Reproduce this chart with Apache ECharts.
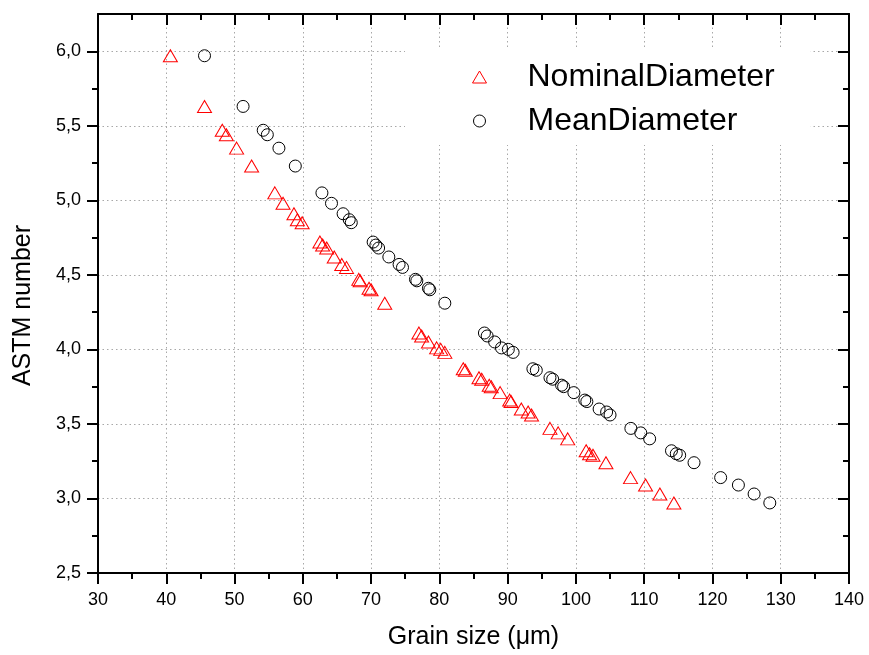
<!DOCTYPE html>
<html>
<head>
<meta charset="utf-8">
<script src="https://cdn.jsdelivr.net/npm/echarts@6/dist/echarts.min.js"></script>
<style>
  html, body { margin: 0; padding: 0; background: #fff; }
  #chart { width: 869px; height: 655px; }
</style>
</head>
<body>
<div id="chart"></div>
<script>
// ASTM grain-size number (shared by both measurement series)
const astmNumber = [
  5.97, 5.63, 5.47, 5.44, 5.35, 5.23, 5.05, 4.98, 4.91, 4.87,
  4.85, 4.72, 4.70, 4.68, 4.62, 4.57, 4.55, 4.47, 4.46, 4.41,
  4.40, 4.31, 4.11, 4.09, 4.05, 4.01, 4.00, 3.98, 3.87, 3.86,
  3.81, 3.80, 3.76, 3.75, 3.71, 3.66, 3.65, 3.60, 3.58, 3.56,
  3.47, 3.44, 3.40, 3.32, 3.30, 3.29, 3.24, 3.14, 3.09, 3.03,
  2.97
];

// Grain size from the nominal diameter (µm)
const nominalDiameter = [
  40.6, 45.6, 48.2, 48.8, 50.3, 52.5, 55.9, 57.1, 58.7, 59.2,
  59.9, 62.5, 62.9, 63.5, 64.6, 65.7, 66.4, 68.2, 68.4, 69.7,
  70.0, 72.0, 77.0, 77.4, 78.4, 79.6, 80.2, 80.8, 83.5, 83.8,
  85.8, 86.2, 87.3, 87.6, 88.9, 90.3, 90.5, 92.0, 93.0, 93.5,
  96.2, 97.4, 98.8, 101.5, 102.0, 102.5, 104.4, 108.0, 110.2, 112.3,
  114.35
];

// Grain size from the mean diameter (µm)
const meanDiameter = [
  45.6, 51.25, 54.2, 54.8, 56.5, 58.9, 62.8, 64.2, 65.9, 66.8,
  67.1, 70.3, 70.7, 71.1, 72.6, 74.1, 74.6, 76.5, 76.7, 78.4,
  78.6, 80.8, 86.6, 87.0, 88.1, 89.1, 90.1, 90.8, 93.7, 94.2,
  96.2, 96.6, 97.9, 98.2, 99.7, 101.3, 101.6, 103.4, 104.5, 105.0,
  108.05, 109.5, 110.8, 114.0, 114.7, 115.2, 117.3, 121.2, 123.8, 126.1,
  128.4
];

const seriesNames = ['NominalDiameter', 'MeanDiameter'];
const yMajorTicks = [2.5, 3.0, 3.5, 4.0, 4.5, 5.0, 5.5, 6.0];
const yMinorTicks = [2.75, 3.25, 3.75, 4.25, 4.75, 5.25, 5.75];

const FONT = 'Liberation Sans, Arial, Helvetica, sans-serif';
const AXIS_COLOR = '#000';
const GRID_LINE = { show: true, lineStyle: { color: '#a8a8a8', width: 1, type: [1.5, 3] } };

const pairs = (xs) => xs.map((x, i) => [x, astmNumber[i]]);

const chart = echarts.init(document.getElementById('chart'), null, { renderer: 'canvas' });

const baseAxisLine = { show: true, onZero: false, lineStyle: { color: AXIS_COLOR, width: 2 } };

chart.setOption({
  animation: false,
  backgroundColor: '#fff',
  textStyle: { fontFamily: FONT },
  grid: { left: 98, right: 20, top: 14, bottom: 82, containLabel: false },
  legend: {
    orient: 'vertical',
    left: 405,
    top: 47,
    padding: [14, 36, 8, 67],
    itemGap: 12,
    itemWidth: 14,
    itemHeight: 12,
    backgroundColor: '#fff',
    textStyle: { fontSize: 32, fontFamily: FONT, color: '#000', lineHeight: 32, padding: [0, 0, 0, 36] },
    data: [
      { name: seriesNames[0], icon: 'triangle', itemStyle: { color: 'rgba(0,0,0,0)', borderColor: '#ff0000', borderWidth: 1 } },
      { name: seriesNames[1], icon: 'circle', itemStyle: { color: 'rgba(0,0,0,0)', borderColor: '#000', borderWidth: 1 } }
    ]
  },
  xAxis: [
    {
      type: 'value', position: 'bottom', min: 30, max: 140, interval: 10,
      name: 'Grain size (\u03bcm)', nameLocation: 'middle', nameGap: 52,
      nameTextStyle: { fontSize: 25, color: '#000', fontFamily: FONT },
      axisLine: baseAxisLine,
      axisTick: { show: true, inside: false, length: 11, lineStyle: { color: AXIS_COLOR, width: 2 } },
      minorTick: { show: true, splitNumber: 2, length: 6, lineStyle: { color: AXIS_COLOR, width: 2 } },
      axisLabel: { fontSize: 18, color: '#000', margin: 18, fontFamily: FONT },
      splitLine: GRID_LINE
    },
    {
      type: 'value', position: 'top', min: 30, max: 140, interval: 10,
      axisLine: baseAxisLine,
      axisTick: { show: true, inside: true, length: 11, lineStyle: { color: AXIS_COLOR, width: 2 } },
      minorTick: { show: true, splitNumber: 2, length: 6, lineStyle: { color: AXIS_COLOR, width: 2 } },
      axisLabel: { show: false },
      splitLine: { show: false }
    }
  ],
  yAxis: [
    {
      type: 'value', position: 'left', min: 2.5, max: 6.25, interval: 0.5,
      name: 'ASTM number', nameLocation: 'middle', nameGap: 62,
      nameTextStyle: { fontSize: 25, color: '#000', fontFamily: FONT, padding: [0, 24, 0, 0] },
      axisLine: baseAxisLine,
      axisTick: { show: true, inside: false, length: 11, customValues: yMajorTicks, lineStyle: { color: AXIS_COLOR, width: 2 } },
      axisLabel: {
        fontSize: 18, color: '#000', margin: 17, fontFamily: FONT,
        customValues: yMajorTicks,
        formatter: (v) => v.toFixed(1).replace('.', ',')
      },
      splitLine: GRID_LINE
    },
    {
      type: 'value', position: 'left', min: 2.5, max: 6.25,
      axisLine: { show: false },
      axisTick: { show: true, inside: false, length: 6, customValues: yMinorTicks, lineStyle: { color: AXIS_COLOR, width: 2 } },
      axisLabel: { show: false },
      splitLine: { show: false }
    },
    {
      type: 'value', position: 'right', min: 2.5, max: 6.25,
      axisLine: baseAxisLine,
      axisTick: { show: true, inside: true, length: 11, customValues: yMajorTicks, lineStyle: { color: AXIS_COLOR, width: 2 } },
      axisLabel: { show: false },
      splitLine: { show: false }
    },
    {
      type: 'value', position: 'right', min: 2.5, max: 6.25,
      axisLine: { show: false },
      axisTick: { show: true, inside: true, length: 6, customValues: yMinorTicks, lineStyle: { color: AXIS_COLOR, width: 2 } },
      axisLabel: { show: false },
      splitLine: { show: false }
    }
  ],
  series: [
    {
      name: seriesNames[0],
      type: 'scatter',
      xAxisIndex: 0, yAxisIndex: 0,
      symbol: 'triangle',
      symbolSize: [14, 12],
      itemStyle: { color: 'rgba(0,0,0,0)', borderColor: '#ff0000', borderWidth: 1, opacity: 1 },
      emphasis: { disabled: true },
      data: pairs(nominalDiameter)
    },
    {
      name: seriesNames[1],
      type: 'scatter',
      xAxisIndex: 0, yAxisIndex: 0,
      symbol: 'circle',
      symbolSize: 12,
      itemStyle: { color: 'rgba(0,0,0,0)', borderColor: '#000', borderWidth: 1, opacity: 1 },
      emphasis: { disabled: true },
      data: pairs(meanDiameter)
    }
  ]
});
</script>
</body>
</html>
